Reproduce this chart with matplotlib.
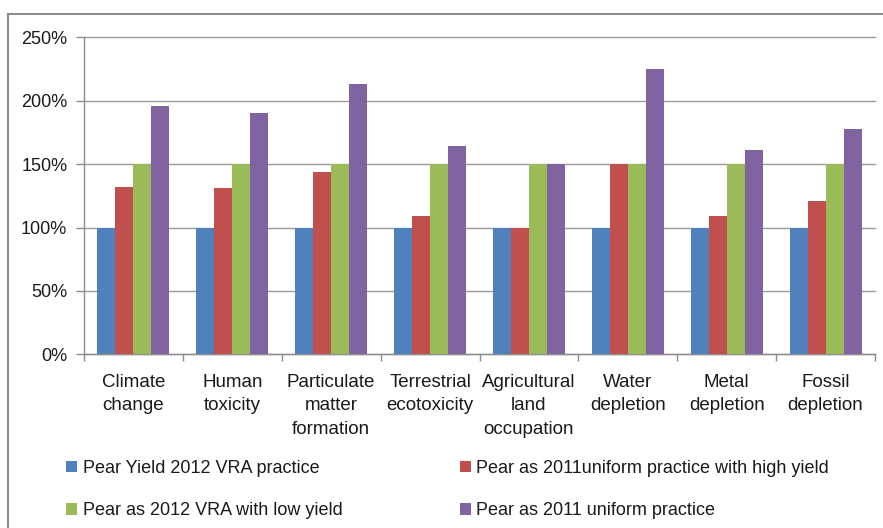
import matplotlib
matplotlib.use('Agg')
import matplotlib.pyplot as plt
from matplotlib.ticker import PercentFormatter, FixedLocator
from matplotlib.lines import Line2D
import numpy as np

categories = ['Climate\nchange', 'Human\ntoxicity', 'Particulate\nmatter\nformation',
              'Terrestrial\necotoxicity', 'Agricultural\nland\noccupation',
              'Water\ndepletion', 'Metal\ndepletion', 'Fossil\ndepletion']
series_names = ['Pear Yield 2012 VRA practice',
                'Pear as 2011uniform practice with high yield',
                'Pear as 2012 VRA with low yield',
                'Pear as 2011 uniform practice']
vra_2012 = [1.00, 1.00, 1.00, 1.00, 1.00, 1.00, 1.00, 1.00]
uniform_high_yield = [1.32, 1.31, 1.44, 1.09, 1.00, 1.50, 1.09, 1.21]
vra_low_yield = [1.50, 1.50, 1.50, 1.50, 1.50, 1.50, 1.50, 1.50]
uniform_2011 = [1.96, 1.90, 2.13, 1.64, 1.50, 2.25, 1.61, 1.78]

colors = ['#4F81BD', '#C0504D', '#9BBB59', '#8064A2']

plt.rcParams['font.family'] = ['Liberation Sans', 'DejaVu Sans']
plt.rcParams['font.size'] = 13

W, H = 883, 528
fig = plt.figure(figsize=(W / 100, H / 100), dpi=100)
fig.patch.set_facecolor('white')

# plot area in pixels
left, right, top, bottom = 84, 875, 37.3, 354.3
ax = fig.add_axes([left / W, 1 - bottom / H, (right - left) / W, (bottom - top) / H])

x = np.arange(len(categories))
width = 0.182
all_series = [vra_2012, uniform_high_yield, vra_low_yield, uniform_2011]
bars = []
for i, vals in enumerate(all_series):
    b = ax.bar(x + (i - 1.5) * width, vals, width, color=colors[i],
               label=series_names[i], zorder=3)
    bars.append(b)

ax.set_xlim(-0.5, len(categories) - 0.5)
ax.set_ylim(0, 2.5)
ax.set_yticks(np.arange(0, 2.51, 0.5))
ax.yaxis.set_major_formatter(PercentFormatter(xmax=1, decimals=0))

# category labels at centres, tick marks at group boundaries
ax.set_xticks(x)
ax.set_xticklabels(categories, linespacing=1.5, fontsize=13.5)
ax.xaxis.set_minor_locator(FixedLocator(np.arange(-0.5, len(categories), 1)))
ax.tick_params(axis='x', which='major', length=0, pad=14)
ax.tick_params(axis='x', which='minor', length=5, color='#8c8c8c', width=1)
ax.tick_params(axis='y', length=6, color='#8c8c8c', width=1, pad=6)
for lab in ax.get_yticklabels():
    lab.set_color('#1a1a1a')
for lab in ax.get_xticklabels():
    lab.set_color('#1a1a1a')

ax.grid(True, axis='y', color='#9a9a9a', linewidth=1, zorder=0)
for gl in ax.get_ygridlines():
    gl.set_clip_on(False)
for side in ['top', 'right']:
    ax.spines[side].set_visible(False)
for side in ['left', 'bottom']:
    ax.spines[side].set_color('#8c8c8c')
    ax.spines[side].set_linewidth(1)

# legend, 2 columns under the chart, filled row by row
order = [0, 2, 1, 3]
leg = fig.legend([bars[i] for i in order], [series_names[i] for i in order],
                 loc='upper left', bbox_to_anchor=(66 / W, 1 - 460 / H), ncol=2,
                 frameon=False, borderpad=0, borderaxespad=0,
                 handlelength=0.62, handleheight=0.62, handletextpad=0.3,
                 columnspacing=6.5, labelspacing=1.4, fontsize=13)
for t in leg.get_texts():
    t.set_color('#1a1a1a')

# outer chart border (left and top only are visible)
fig.add_artist(Line2D([8 / W, 8 / W], [0, 1 - 14 / H], color='#8c8c8c', linewidth=1.5))
fig.add_artist(Line2D([8 / W, 1], [1 - 14 / H, 1 - 14 / H], color='#8c8c8c', linewidth=1.5))

fig.savefig('out.png', dpi=100)
